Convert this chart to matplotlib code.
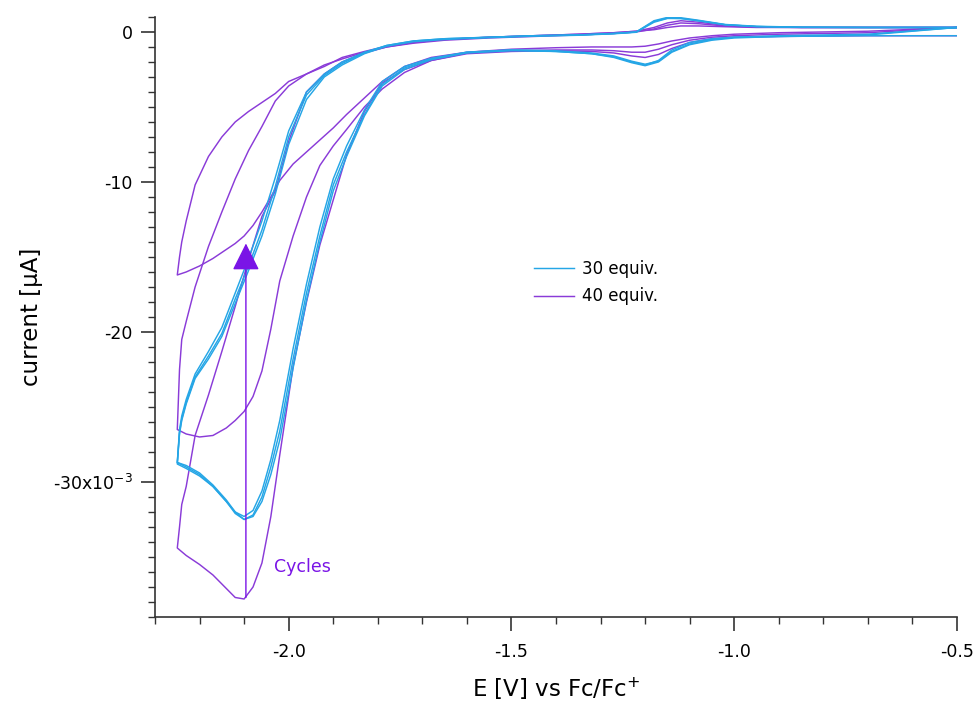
import matplotlib
matplotlib.use("Agg")
import matplotlib.pyplot as plt
from matplotlib.ticker import MultipleLocator, FixedLocator, FuncFormatter

plt.rcParams['font.family'] = ['DejaVu Sans']

# potential grids (V vs Fc/Fc+)
fwd_E = [-0.50, -0.70, -0.90, -1.00, -1.05, -1.10, -1.14, -1.17, -1.20, -1.23, -1.27,
         -1.32, -1.40, -1.50, -1.60, -1.68, -1.74, -1.79, -1.83, -1.87, -1.90, -1.93,
         -1.96, -1.99, -2.02, -2.04, -2.06, -2.08, -2.10, -2.12, -2.14, -2.17, -2.20,
         -2.23, -2.25]
rev_E = [-2.25, -2.245, -2.24, -2.23, -2.21, -2.18, -2.15, -2.12, -2.09, -2.06, -2.03,
         -2.00, -1.96, -1.92, -1.88, -1.83, -1.78, -1.72, -1.65, -1.55, -1.45, -1.35,
         -1.27, -1.22, -1.18, -1.15, -1.12, -1.08, -1.02, -0.95, -0.85, -0.70, -0.50]

# 30 equiv. (three cycles), current in uA
blue_f1 = [-0.25, -0.25, -0.3, -0.35, -0.45, -0.7, -1.2, -1.9, -2.2, -2.0, -1.65,
           -1.45, -1.3, -1.2, -1.35, -1.8, -2.4, -3.5, -5.5, -8.0, -10.2, -13.6,
           -17.4, -21.8, -26.6, -29.0, -31.0, -32.2, -32.5, -32.1, -31.3, -30.3, -29.5,
           -29.0, -28.7]
blue_r1 = [-28.7, -26.7, -25.8, -24.7, -23.0, -21.6, -20.1, -17.8, -15.6, -13.2, -10.3,
           -7.0, -4.2, -2.9, -2.1, -1.4, -0.9, -0.6, -0.45, -0.35, -0.25, -0.2,
           -0.1, 0.0, 0.75, 0.97, 0.95, 0.78, 0.5, 0.38, 0.32, 0.3, 0.3]
blue_f2 = [0.3, -0.2, -0.3, -0.4, -0.55, -0.85, -1.35, -2.0, -2.25, -2.05, -1.7,
           -1.45, -1.3, -1.25, -1.4, -1.85, -2.5, -3.6, -5.6, -8.3, -10.6, -14.0,
           -17.9, -22.4, -27.2, -29.5, -31.3, -32.3, -32.5, -32.0, -31.2, -30.2, -29.4,
           -28.9, -28.7]
blue_r2 = [-28.7, -26.5, -25.6, -24.5, -22.8, -21.3, -19.7, -17.4, -15.1, -12.6, -9.7,
           -6.6, -4.0, -2.8, -2.0, -1.35, -0.9, -0.6, -0.45, -0.35, -0.25, -0.2,
           -0.1, 0.0, 0.7, 0.92, 0.9, 0.74, 0.48, 0.36, 0.31, 0.3, 0.3]
blue_f3 = [0.3, -0.15, -0.25, -0.35, -0.5, -0.8, -1.3, -1.95, -2.15, -1.95, -1.6,
           -1.4, -1.25, -1.2, -1.35, -1.75, -2.3, -3.3, -5.2, -7.6, -9.8, -13.0,
           -16.8, -21.1, -25.9, -28.5, -30.6, -31.9, -32.3, -32.0, -31.3, -30.3, -29.6,
           -29.1, -28.8]
blue_r3 = [-28.8, -26.8, -25.9, -24.8, -23.1, -21.8, -20.3, -18.1, -15.9, -13.6, -10.8,
           -7.5, -4.5, -3.0, -2.2, -1.45, -0.95, -0.65, -0.5, -0.38, -0.28, -0.22,
           -0.12, -0.02, 0.65, 0.9, 0.9, 0.75, 0.48, 0.36, 0.31, 0.3, 0.3]

# 40 equiv. (three cycles)
purple_f1 = [-0.25, -0.25, -0.3, -0.35, -0.45, -0.7, -1.1, -1.5, -1.7, -1.6, -1.4,
             -1.3, -1.25, -1.3, -1.45, -1.9, -2.5, -3.4, -5.3, -8.2, -11.2, -14.2,
             -18.0, -22.3, -28.2, -32.3, -35.4, -37.0, -37.8, -37.7, -37.1, -36.2, -35.5,
             -34.9, -34.4]
purple_r1 = [-34.4, -33.0, -31.5, -30.3, -26.9, -24.2, -21.3, -18.3, -15.2, -12.3, -10.6,
             -7.3, -4.0, -2.8, -2.0, -1.4, -1.0, -0.7, -0.5, -0.35, -0.25, -0.15,
             -0.05, 0.05, 0.3, 0.6, 0.75, 0.65, 0.45, 0.35, 0.3, 0.3, 0.3]
purple_f2 = [0.3, -0.05, -0.15, -0.25, -0.35, -0.55, -0.85, -1.15, -1.35, -1.35, -1.25,
             -1.2, -1.2, -1.25, -1.4, -1.9, -2.7, -3.8, -5.0, -6.5, -7.6, -8.9,
             -11.0, -13.6, -16.6, -19.8, -22.6, -24.3, -25.3, -25.9, -26.4, -26.9, -27.0,
             -26.8, -26.5]
purple_r2 = [-26.5, -22.5, -20.5, -19.3, -17.0, -14.3, -12.0, -9.8, -7.9, -6.3, -4.6,
             -3.6, -2.8, -2.2, -1.8, -1.35, -1.0, -0.75, -0.55, -0.4, -0.3, -0.2,
             -0.1, 0.0, 0.2, 0.45, 0.6, 0.55, 0.4, 0.32, 0.3, 0.3, 0.3]
purple_f3 = [0.3, 0.05, -0.05, -0.15, -0.25, -0.4, -0.6, -0.8, -0.95, -1.0, -1.0,
             -1.0, -1.05, -1.15, -1.35, -1.7, -2.3, -3.3, -4.4, -5.5, -6.4, -7.2,
             -8.0, -8.8, -9.9, -11.0, -12.0, -12.9, -13.6, -14.1, -14.5, -15.1, -15.6,
             -16.0, -16.2]
purple_r3 = [-16.2, -15.0, -14.0, -12.6, -10.2, -8.3, -7.0, -6.0, -5.3, -4.7, -4.1,
             -3.3, -2.8, -2.3, -1.7, -1.3, -0.95, -0.7, -0.5, -0.35, -0.25, -0.15,
             -0.05, 0.05, 0.15, 0.3, 0.4, 0.4, 0.35, 0.3, 0.3, 0.3, 0.3]

series_labels = ["30 equiv.", "40 equiv."]
x_ticks = [-2.0, -1.5, -1.0, -0.5]
y_ticks = [0, -10, -20, -30]
y_tick_labels = ["0", "-10", "-20", r"-30x10$^{-3}$"]

# annotation (cycles arrow)
arrow_E = -2.096
arrow_from = -37.7
arrow_to = -14.1
cycles_text = "Cycles"

BLUE = "#25a6e6"
PURPLE = "#8a3bd8"
ARROW = "#7a14e6"
AXIS = "#333333"

fig = plt.figure(figsize=(9.78, 7.04), dpi=100)
ax = fig.add_axes([0.1585, 0.1236, 0.8200, 0.8523])

purple_cycles = [(purple_f1, purple_r1), (purple_f2, purple_r2), (purple_f3, purple_r3)]
blue_cycles = [(blue_f1, blue_r1), (blue_f2, blue_r2), (blue_f3, blue_r3)]

for i, (f, r) in enumerate(purple_cycles):
    ax.plot(fwd_E + rev_E, f + r, color=PURPLE, lw=1.05,
            label=series_labels[1] if i == 0 else None, zorder=2)
for i, (f, r) in enumerate(blue_cycles):
    ax.plot(fwd_E + rev_E, f + r, color=BLUE, lw=1.05,
            label=series_labels[0] if i == 0 else None, zorder=3)

# arrow
ax.annotate("", xy=(arrow_E, arrow_to), xytext=(arrow_E, arrow_from),
            arrowprops=dict(arrowstyle="-|>,head_length=1.7,head_width=0.85",
                            color=ARROW, lw=1.0, shrinkA=0, shrinkB=0),
            zorder=5)
ax.text(-2.034, -35.7, cycles_text, color=ARROW, fontsize=12.5,
        ha="left", va="center")

ax.set_xlim(-2.3, -0.5)
ax.set_ylim(-39, 1)

for side in ["top", "right"]:
    ax.spines[side].set_visible(False)
for side in ["left", "bottom"]:
    ax.spines[side].set_color(AXIS)
    ax.spines[side].set_linewidth(1.2)

ax.xaxis.set_major_locator(FixedLocator(x_ticks))
ax.xaxis.set_minor_locator(MultipleLocator(0.1))
ax.xaxis.set_major_formatter(FuncFormatter(lambda v, p: f"{v:.1f}"))
ax.yaxis.set_major_locator(FixedLocator(y_ticks))
ax.yaxis.set_minor_locator(MultipleLocator(1))
ax.set_yticklabels(y_tick_labels)

ax.tick_params(which="major", direction="out", length=10, width=1.2,
               color=AXIS, labelsize=12.5)
ax.tick_params(which="minor", direction="out", length=5, width=1.0, color=AXIS)
ax.tick_params(axis="x", which="major", pad=9)
ax.tick_params(axis="y", which="major", pad=6)

ax.set_xlabel(r"E [V] vs Fc/Fc$^{+}$", fontsize=16.5, labelpad=10)
ax.set_ylabel("current [\u03bcA]", fontsize=16.5, labelpad=7)

handles, labels = ax.get_legend_handles_labels()
order = [labels.index(series_labels[0]), labels.index(series_labels[1])]
leg = ax.legend([handles[k] for k in order], [labels[k] for k in order],
                loc="center left", bbox_to_anchor=(0.464, 0.557),
                frameon=False, fontsize=12, handlelength=2.4,
                handletextpad=0.5, borderaxespad=0, labelspacing=0.55)

fig.savefig("out.png", dpi=100)
